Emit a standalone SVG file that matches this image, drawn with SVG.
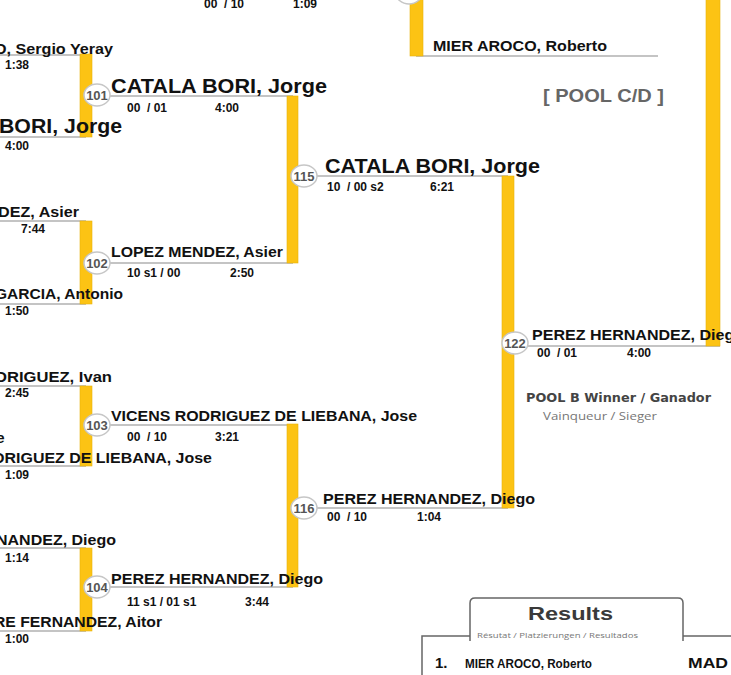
<svg xmlns="http://www.w3.org/2000/svg" width="731" height="675" viewBox="0 0 731 675" xml:space="preserve">
<style>
text{font-family:"Liberation Sans",Arial,sans-serif;font-weight:bold;fill:#111;white-space:pre}
.nm{font-size:15px}
.big{font-size:20px}
.sc{font-size:12px}
.bar{fill:#FCC314;stroke:#e8b20a;stroke-width:0.6}
.ln{stroke:#c4c4c4;stroke-width:2;fill:none}
.ci ellipse{fill:#fff;stroke:#c6c6c6;stroke-width:1.5}
.ci text{font-size:13px;fill:#555;text-anchor:middle}
.end{text-anchor:end}
.pool{font-size:18px;fill:#666}
.box{fill:none;stroke:#666;stroke-width:1.5}
</style>
<rect width="731" height="675" fill="#fff"/>
<g id="connectors">
<path class="ln" d="M0,55H86 M0,137H86 M0,221H86 M0,304H86 M0,386H86 M0,466H86 M0,548H86 M0,631H86 M96,96H293 M96,263H293 M96,425H293 M96,587H293 M304,176H508 M304,508H508 M514,346H720 M416,56H658"/>
<rect class="bar" x="80" y="54" width="12" height="83"/>
<rect class="bar" x="80" y="221" width="12" height="83"/>
<rect class="bar" x="80" y="386" width="12" height="80"/>
<rect class="bar" x="80" y="548" width="12" height="83"/>
<rect class="bar" x="287" y="96" width="11" height="167"/>
<rect class="bar" x="287" y="424" width="11" height="163"/>
<rect class="bar" x="502" y="176" width="12" height="332"/>
<rect class="bar" x="410" y="-2" width="13" height="58"/>
<rect class="bar" x="706" y="-2" width="14" height="348"/>
</g>
<g id="entries">
<text class="nm end" x="113" y="54" textLength="119" lengthAdjust="spacingAndGlyphs">O, Sergio Yeray</text>
<text class="sc" x="5" y="69">1:38</text>
<text class="big" x="-1" y="133" textLength="123" lengthAdjust="spacingAndGlyphs">BORI, Jorge</text>
<text class="sc" x="5" y="150">4:00</text>
<text class="nm end" x="79" y="217" textLength="81" lengthAdjust="spacingAndGlyphs">DEZ, Asier</text>
<text class="sc" x="21" y="233">7:44</text>
<text class="nm end" x="123" y="299" textLength="128" lengthAdjust="spacingAndGlyphs">GARCIA, Antonio</text>
<text class="sc" x="5" y="315">1:50</text>
<text class="nm end" x="112" y="382" textLength="117" lengthAdjust="spacingAndGlyphs">DRIGUEZ, Ivan</text>
<text class="sc" x="5" y="397">2:45</text>
<text class="nm end" x="4.5" y="443">e</text>
<text class="nm end" x="212" y="463" textLength="219" lengthAdjust="spacingAndGlyphs">DRIGUEZ DE LIEBANA, Jose</text>
<text class="sc" x="5" y="479">1:09</text>
<text class="nm end" x="116" y="545" textLength="120" lengthAdjust="spacingAndGlyphs">NANDEZ, Diego</text>
<text class="sc" x="5" y="562">1:14</text>
<text class="nm end" x="162" y="627" textLength="168" lengthAdjust="spacingAndGlyphs">RE FERNANDEZ, Aitor</text>
<text class="sc" x="5" y="643">1:00</text>
</g>
<g id="m-prev">
<text class="sc" x="204" y="8">00  / 10</text>
<text class="sc" x="293" y="8">1:09</text>
</g>
<g id="m-top">
<g class="ci"><ellipse cx="409" cy="-7" rx="13" ry="11"/></g>
<text class="nm" x="433" y="51" textLength="174" lengthAdjust="spacingAndGlyphs">MIER AROCO, Roberto</text>
</g>
<g id="m101">
<g class="ci"><ellipse cx="97" cy="95" rx="13" ry="11"/><text x="97" y="99.5">101</text></g>
<text class="big" x="111" y="93" textLength="216" lengthAdjust="spacingAndGlyphs">CATALA BORI, Jorge</text>
<text class="sc" x="127" y="112">00  / 01</text>
<text class="sc" x="215" y="112">4:00</text>
</g>
<g id="m102">
<g class="ci"><ellipse cx="97" cy="263" rx="13" ry="11"/><text x="97" y="267.5">102</text></g>
<text class="nm" x="111" y="257" textLength="172" lengthAdjust="spacingAndGlyphs">LOPEZ MENDEZ, Asier</text>
<text class="sc" x="127" y="277">10 s1 / 00</text>
<text class="sc" x="230" y="277">2:50</text>
</g>
<g id="m103">
<g class="ci"><ellipse cx="97" cy="425" rx="13" ry="11"/><text x="97" y="429.5">103</text></g>
<text class="nm" x="111" y="421" textLength="306" lengthAdjust="spacingAndGlyphs">VICENS RODRIGUEZ DE LIEBANA, Jose</text>
<text class="sc" x="127" y="441">00  / 10</text>
<text class="sc" x="215" y="441">3:21</text>
</g>
<g id="m104">
<g class="ci"><ellipse cx="97" cy="587" rx="13" ry="11"/><text x="97" y="591.5">104</text></g>
<text class="nm" x="111" y="584" textLength="212" lengthAdjust="spacingAndGlyphs">PEREZ HERNANDEZ, Diego</text>
<text class="sc" x="127" y="606">11 s1 / 01 s1</text>
<text class="sc" x="245" y="606">3:44</text>
</g>
<g id="m115">
<g class="ci"><ellipse cx="304" cy="176" rx="13" ry="11"/><text x="304" y="180.5">115</text></g>
<text class="big" x="325" y="173" textLength="215" lengthAdjust="spacingAndGlyphs">CATALA BORI, Jorge</text>
<text class="sc" x="327" y="191">10  / 00 s2</text>
<text class="sc" x="430" y="191">6:21</text>
</g>
<g id="m116">
<g class="ci"><ellipse cx="304" cy="508" rx="13" ry="11"/><text x="304" y="512.5">116</text></g>
<text class="nm" x="323" y="504" textLength="212" lengthAdjust="spacingAndGlyphs">PEREZ HERNANDEZ, Diego</text>
<text class="sc" x="327" y="521">00  / 10</text>
<text class="sc" x="417" y="521">1:04</text>
</g>
<g id="m122">
<g class="ci"><ellipse cx="515" cy="343" rx="13" ry="11"/><text x="515" y="347.5">122</text></g>
<text class="nm" x="532" y="340" textLength="212" lengthAdjust="spacingAndGlyphs">PEREZ HERNANDEZ, Diego</text>
<text class="sc" x="537" y="357">00  / 01</text>
<text class="sc" x="627" y="357">4:00</text>
</g>
<g id="pool-label">
<text class="pool" x="543" y="102" textLength="121" lengthAdjust="spacingAndGlyphs">[ POOL C/D ]</text>
</g>
<g id="pool-winner">
<text x="526" y="402" textLength="185" lengthAdjust="spacingAndGlyphs" style="font-family:'DejaVu Sans',sans-serif;font-size:11.5px;fill:#444">POOL B Winner / Ganador</text>
<text x="543" y="420" textLength="114" lengthAdjust="spacingAndGlyphs" style="font-family:'Open Sans',sans-serif;font-weight:normal;font-size:11.5px;fill:#777">Vainqueur / Sieger</text>
</g>
<g id="results">
<path class="box" d="M422,676V636H470 M683,636H732"/>
<path class="box" d="M470,641V603Q470,598 475,598H678Q683,598 683,603V641" style="fill:#fff"/>
<text x="528" y="620" textLength="85" lengthAdjust="spacingAndGlyphs" style="font-size:19px;fill:#3a3a3a">Results</text>
<text x="477" y="638" textLength="161" lengthAdjust="spacingAndGlyphs" style="font-family:'Open Sans',sans-serif;font-weight:normal;font-size:8px;fill:#777">Résutat / Platzierungen / Resultados</text>
<text x="435" y="668" style="font-size:15px">1.</text>
<text x="465" y="668" textLength="127" lengthAdjust="spacingAndGlyphs" style="font-size:13px">MIER AROCO, Roberto</text>
<text x="688" y="668" textLength="40" lengthAdjust="spacingAndGlyphs" style="font-size:15px">MAD</text>
</g>
</svg>
